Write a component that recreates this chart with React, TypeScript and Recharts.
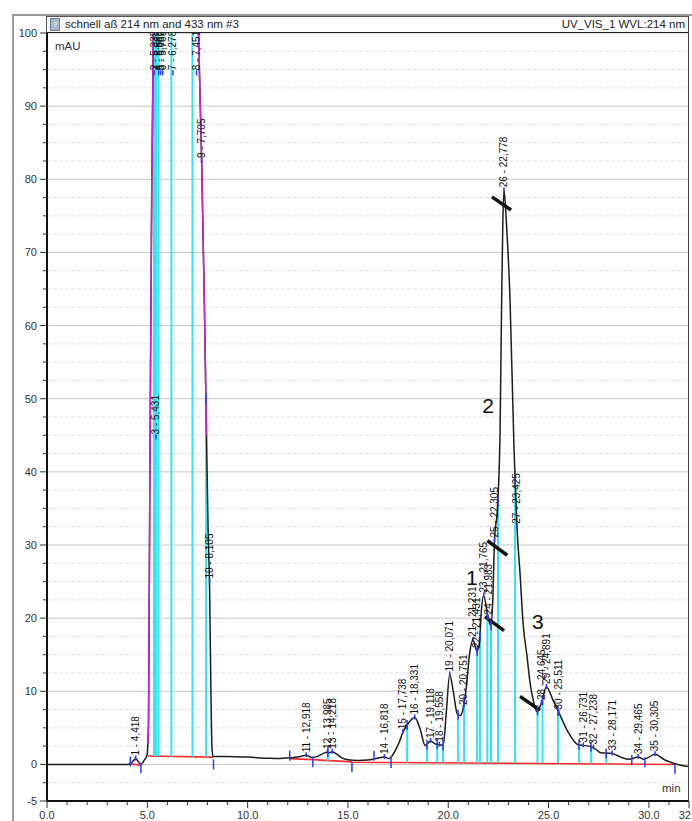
import React from "react";
import {
  ComposedChart,
  Line,
  Scatter,
  XAxis,
  YAxis,
  ReferenceLine,
} from "recharts";

// UV_VIS_1 trace, 214 nm (min / mAU)
const traceTime = [
  0, 2, 4.0, 4.15, 4.3, 4.418, 4.55, 4.68, 4.85, 4.98, 5.03, 5.06, 5.1, 5.15,
  5.22, 5.3, 5.38, 7.45, 7.55, 7.705, 7.85, 7.95, 8.03, 8.105, 8.17, 8.22, 8.27,
  8.5, 9.0, 10.0, 11.0, 11.6, 12.1, 12.5, 12.918, 13.2, 13.5, 13.8, 13.985,
  14.1, 14.218, 14.45, 14.7, 15.0, 15.5, 16.0, 16.4, 16.818, 17.05, 17.3, 17.55,
  17.738, 18.0, 18.331, 18.6, 18.85, 19.118, 19.35, 19.558, 19.75, 19.9, 20.071,
  20.25, 20.45, 20.6, 20.751, 20.9, 21.05, 21.231, 21.431, 21.55, 21.65, 21.765,
  21.983, 22.12, 22.22, 22.305, 22.45, 22.58, 22.66, 22.72, 22.778, 22.9, 23.08,
  23.28, 23.425, 23.58, 23.73, 23.93, 24.08, 24.27, 24.42, 24.645, 24.891,
  25.22, 25.511, 25.92, 26.47, 26.731, 27.0, 27.238, 27.6, 28.171, 28.6, 29.0,
  29.465, 29.75, 30.305, 30.8, 31.3, 32,
];
const traceSignal = [
  0, 0, 0, 0.05, 0.5, 0.8, 0.4, 0.0, 0.6, 1.2, 2.9, 6, 25, 50,
  78, 100, 115, 115, 100, 83, 62, 45, 32, 24, 10, 2.5, 1.1,
  1.1, 1.1, 1.0, 0.85, 0.8, 0.9, 1.0, 1.25, 0.95, 1.1, 1.55, 1.7,
  1.6, 1.75, 1.4, 0.9, 0.65, 0.55, 0.6, 0.8, 1.0, 0.8, 1.6, 3.0,
  4.4, 5.6, 6.4, 4.8, 2.6, 3.2, 2.8, 2.7, 2.6, 7, 12.3,
  10, 6.9, 6.7, 7.7, 10.5, 14.8, 17.0, 15.5, 16.5, 21.0, 23.1,
  20.1, 19.0, 22.5, 30.6, 35, 45, 63, 74, 78.5, 74, 63.5,
  43, 32.5, 26, 19.3, 14.7, 11.1, 8.4, 7.2, 8.4, 10.6,
  8.8, 7.1, 4.7, 2.7, 2.6, 2.5, 2.3, 1.6, 1.5, 1.0, 0.7,
  1.0, 0.7, 1.4, 0.6, 0.1, -0.3,
];

// second channel overlay on the flanks of the solvent front
const frontRiseTime = [5.03, 5.06, 5.1, 5.15, 5.22, 5.3, 5.38];
const frontRiseSignal = [2.9, 6, 25, 50, 78, 100, 115];
const frontFallTime = [7.45, 7.55, 7.705, 7.85, 7.95];
const frontFallSignal = [115, 100, 83, 62, 45];

// integration baselines (null breaks the line)
const baselineTime = [4.15, 4.68, 4.7, 5.03, 8.28, 8.3, 12.1, 13.25, 15.2, 15.21, 15.2, 31.3];
const baselineSignal = [0.05, -0.1, null, 1.15, 1.0, null, 0.8, 0.65, 0.35, null, 0.3, 0.0];

// drop lines
const dropTime = [
  5.33, 5.43, 5.55, 6.2, 7.25, 7.93, 14.0, 17.95, 18.94, 19.45, 19.74, 20.49,
  20.79, 21.44, 21.58, 21.95, 22.13, 22.48, 23.33, 24.45, 24.7, 25.47, 26.52,
  27.12, 27.87,
];
const dropFrom = [
  1.15, 1.15, 1.15, 1.1, 1.05, 1.0, 0.5, 0.27, 0.26, 0.25, 0.25, 0.24,
  0.24, 0.23, 0.23, 0.22, 0.22, 0.22, 0.21, 0.19, 0.19, 0.18, 0.16,
  0.15, 0.14,
];
const dropTo = [
  100, 100, 100, 100, 100, 50, 1.7, 5.4, 2.7, 2.8, 2.6, 6.8,
  8.6, 15.5, 17.5, 20.5, 19.0, 36, 38.5, 7.4, 8.8, 7.3, 2.7,
  2.4, 1.5,
];

// peak start / end markers
const delimiterTime = [4.15, 4.68, 8.3, 12.1, 13.25, 15.2, 16.3, 17.15, 29.15, 29.8, 31.3];
const delimiterSignal = [0.4, -0.5, 0.0, 1.2, 0.3, -0.4, 1.2, 0.2, 0.6, 0.3, -0.6];

// peak table: number, retention time, label anchor height
const peakNo = [
  1, 2, 3, 4, 5, 6, 7, 8, 9, 10, 11, 12, 13, 14, 15, 16, 17, 18, 19, 20, 21,
  22, 23, 24, 25, 26, 27, 28, 29, 30, 31, 32, 33, 34, 35,
];
const peakRt = [
  4.418, 5.339, 5.431, 5.568, 5.662, 5.765, 6.278, 7.451, 7.705, 8.105, 12.918,
  13.985, 14.218, 16.818, 17.738, 18.331, 19.118, 19.558, 20.071, 20.751,
  21.231, 21.431, 21.765, 21.983, 22.305, 22.778, 23.425, 24.645, 24.891,
  25.511, 26.731, 27.238, 28.171, 29.465, 30.305,
];
const peakHeight = [
  0.8, 94.5, 44.7, 94.5, 94.5, 94.5, 94.5, 94.5, 82.5, 25, 1.25,
  1.7, 1.75, 1.0, 4.4, 6.4, 3.2, 2.7, 12.3, 7.7,
  17.0, 15.5, 23.1, 20.1, 30.6, 78.5, 32.5, 8.4, 10.6,
  7.1, 2.6, 2.3, 1.5, 1.0, 1.4,
];

// hand-drawn marks
const slashFrom = [
  { t: 22.18, v: 77.6 },
  { t: 21.95, v: 30.6 },
  { t: 21.83, v: 20.2 },
  { t: 23.58, v: 9.3 },
];
const slashTo = [
  { t: 23.13, v: 75.8 },
  { t: 22.94, v: 28.6 },
  { t: 22.78, v: 18.3 },
  { t: 24.57, v: 7.4 },
];
const noteText = ["1", "2", "3"];
const noteTime = [21.18, 21.98, 24.46];
const noteSignal = [25.5, 49.1, 19.6];

const xTicks = [
  0, 1, 2, 3, 4, 5, 6, 7, 8, 9, 10, 11, 12, 13, 14, 15, 16, 17, 18, 19, 20, 21,
  22, 23, 24, 25, 26, 27, 28, 29, 30, 31, 32,
];
const yTicks = [
  -5, -2.5, 0, 2.5, 5, 7.5, 10, 12.5, 15, 17.5, 20, 22.5, 25, 27.5, 30, 32.5,
  35, 37.5, 40, 42.5, 45, 47.5, 50, 52.5, 55, 57.5, 60, 62.5, 65, 67.5, 70,
  72.5, 75, 77.5, 80, 82.5, 85, 87.5, 90, 92.5, 95, 97.5, 100,
];
const yLabelled = [-5, 0, 10, 20, 30, 40, 50, 60, 70, 80, 90, 100];

const trace = traceTime.map((t, i) => ({ t, v: traceSignal[i] }));
const frontRise = frontRiseTime.map((t, i) => ({ t, v: frontRiseSignal[i] }));
const frontFall = frontFallTime.map((t, i) => ({ t, v: frontFallSignal[i] }));
const baseline = baselineTime.map((t, i) => ({ t, v: baselineSignal[i] }));
const delimiters = [
  ...delimiterTime.map((t, i) => ({ t, v: delimiterSignal[i] })),
  ...dropTime
    .map((t, i) => ({ t, v: dropTo[i] }))
    .filter((d) => d.v < 100),
];
const peaks = peakRt.map((t, i) => ({
  t,
  v: peakHeight[i],
  name: `${peakNo[i]} - ${t.toFixed(3).replace(".", ",")}`,
}));
const notes = noteText.map((text, i) => ({ t: noteTime[i], v: noteSignal[i], text }));

const font = "'Liberation Sans', Arial, sans-serif";
const BLUE = "#2f3cf0";
const CYAN = "#2fe6f0";

function XTick(props: any) {
  const { x, y, payload } = props;
  const value = payload.value as number;
  const last = value === 32;
  const major = value % 5 === 0 || last;
  return (
    <g>
      <line x1={x} x2={x} y1={y} y2={y + (major ? 7 : 4)} stroke="#333" />
      {major && (
        <text
          x={last ? x + 2 : x}
          y={y + 18}
          textAnchor={last ? "end" : "middle"}
          fontSize={11}
          fill="#333"
          fontFamily={font}>
          {last ? "32" : value.toFixed(1)}
        </text>
      )}
    </g>
  );
}

function YTick(props: any) {
  const { x, y, payload } = props;
  const value = payload.value as number;
  const major = yLabelled.includes(value);
  return (
    <g>
      <line x1={x - (major ? 7 : 4)} x2={x} y1={y} y2={y} stroke="#333" />
      {major && (
        <text x={x - 10} y={y + 4} textAnchor="end" fontSize={11} fill="#333" fontFamily={font}>
          {value}
        </text>
      )}
    </g>
  );
}

function PeakLabel(props: any) {
  const { cx, cy, payload } = props;
  return (
    <g>
      <line x1={cx} x2={cx} y1={cy - 3} y2={cy + 2} stroke={BLUE} strokeWidth={1.5} />
      <text
        transform={`translate(${cx + 3.5},${cy - 3}) rotate(-90)`}
        fontSize={10}
        fill="#111"
        fontFamily={font}>
        {payload.name}
      </text>
    </g>
  );
}

function Delimiter(props: any) {
  const { cx, cy } = props;
  return <line x1={cx} x2={cx} y1={cy - 5} y2={cy + 5} stroke={BLUE} strokeWidth={1.5} />;
}

function Note(props: any) {
  const { cx, cy, payload } = props;
  return (
    <text x={cx} y={cy + 7.5} textAnchor="middle" fontSize={21} fill="#111" fontFamily={font}>
      {payload.text}
    </text>
  );
}

export default function App() {
  return (
    <div
      style={{
        position: "fixed",
        left: 0,
        top: 0,
        width: 692,
        height: 821,
        overflow: "hidden",
        background: "#fff",
        fontFamily: font,
      }}>
      {/* outer frame */}
      <div
        style={{
          position: "absolute",
          left: 12,
          top: 14,
          width: 700,
          height: 830,
          borderLeft: "2px solid #9a9a9a",
          borderTop: "2px solid #9a9a9a",
        }}
      />
      <div style={{ position: "absolute", left: 0, top: 0 }}>
        <ComposedChart
          width={692}
          height={821}
          margin={{ top: 33, right: 3, bottom: 0, left: 7 }}>
          {yTicks.map((y) => (
            <ReferenceLine
              key={`g${y}`}
              y={y}
              stroke={y % 10 === 0 ? "#c6c6c6" : "#e0e0e0"}
              strokeDasharray={y % 10 === 0 ? undefined : "4 2"}
            />
          ))}
          <XAxis
            type="number"
            dataKey="t"
            domain={[0, 32]}
            ticks={xTicks}
            interval={0}
            allowDataOverflow
            height={20}
            tickSize={0}
            tickMargin={0}
            tickLine={false}
            axisLine={{ stroke: "#111", strokeWidth: 2 }}
            tick={<XTick />}
          />
          <YAxis
            type="number"
            dataKey="v"
            domain={[-5, 100]}
            ticks={yTicks}
            interval={0}
            allowDataOverflow
            width={40}
            tickSize={0}
            tickMargin={0}
            tickLine={false}
            axisLine={{ stroke: "#111", strokeWidth: 2 }}
            tick={<YTick />}
          />
          <Line
            data={baseline}
            dataKey="v"
            type="linear"
            stroke="#ff2b2b"
            strokeWidth={1.6}
            dot={false}
            activeDot={false}
            isAnimationActive={false}
          />
          {dropTime.map((t, i) => (
            <ReferenceLine
              key={`d${i}`}
              segment={[
                { x: t, y: dropFrom[i] },
                { x: t, y: dropTo[i] },
              ]}
              stroke={CYAN}
              strokeWidth={2}
            />
          ))}
          <Line
            data={trace}
            dataKey="v"
            type="monotone"
            stroke="#1c1c1c"
            strokeWidth={1.5}
            dot={false}
            activeDot={false}
            isAnimationActive={false}
          />
          <Line
            data={frontRise}
            dataKey="v"
            type="monotone"
            stroke="#d41fd4"
            strokeWidth={1.5}
            dot={false}
            activeDot={false}
            isAnimationActive={false}
          />
          <Line
            data={frontFall}
            dataKey="v"
            type="monotone"
            stroke="#d41fd4"
            strokeWidth={1.5}
            dot={false}
            activeDot={false}
            isAnimationActive={false}
          />
          <Scatter data={delimiters} dataKey="v" shape={<Delimiter />} isAnimationActive={false} />
          <Scatter data={peaks} dataKey="v" shape={<PeakLabel />} isAnimationActive={false} />
          {slashFrom.map((p, i) => (
            <ReferenceLine
              key={`s${i}`}
              segment={[
                { x: p.t, y: p.v },
                { x: slashTo[i].t, y: slashTo[i].v },
              ]}
              stroke="#111"
              strokeWidth={3.5}
            />
          ))}
          <Scatter data={notes} dataKey="v" shape={<Note />} isAnimationActive={false} />
        </ComposedChart>
      </div>
      {/* title bar */}
      <div
        style={{
          position: "absolute",
          left: 46,
          top: 16,
          width: 643,
          height: 17,
          boxSizing: "border-box",
          border: "1px solid #555",
          borderBottom: "1.5px solid #222",
          background: "#fff",
          fontSize: 11.5,
          lineHeight: "15px",
          color: "#222",
        }}>
        <div
          style={{
            position: "absolute",
            left: 3,
            top: 1,
            width: 8,
            height: 11,
            background: "#a9b9cc",
            border: "1px solid #6d7f96",
            color: "#fff",
            fontSize: 8,
            lineHeight: "11px",
            textAlign: "center",
          }}>
          ?
        </div>
        <span style={{ position: "absolute", left: 18, top: 0 }}>
          schnell aß 214 nm and 433 nm #3
        </span>
        <span style={{ position: "absolute", right: 3, top: 0 }}>UV_VIS_1 WVL:214 nm</span>
      </div>
      {/* right border of the plot */}
      <div
        style={{
          position: "absolute",
          left: 688,
          top: 16,
          width: 1,
          height: 785,
          background: "#444",
        }}
      />
      <div style={{ position: "absolute", left: 55, top: 40, fontSize: 11.5, color: "#333" }}>
        mAU
      </div>
      <div style={{ position: "absolute", left: 662, top: 782, fontSize: 11.5, color: "#333" }}>
        min
      </div>
    </div>
  );
}
